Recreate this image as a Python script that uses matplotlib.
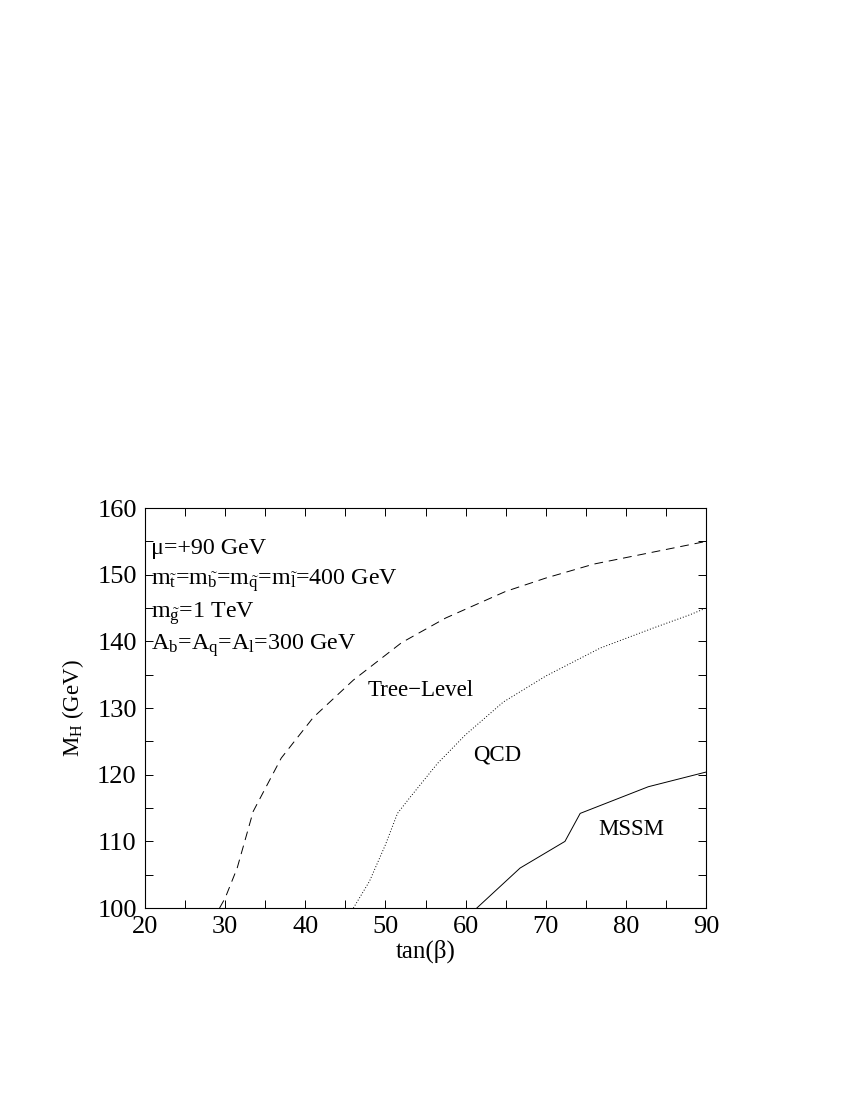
import matplotlib
matplotlib.use("Agg")
import matplotlib.pyplot as plt
from matplotlib.ticker import MultipleLocator

plt.rcParams['font.family'] = ['Liberation Serif', 'DejaVu Serif']
plt.rcParams['mathtext.fontset'] = 'custom'
plt.rcParams['mathtext.rm'] = 'Liberation Serif'
plt.rcParams['mathtext.it'] = 'Liberation Serif'
plt.rcParams['mathtext.bf'] = 'Liberation Serif:bold'

# Tree-level curve (dashed)
tree_tanb = [29.3, 30.0, 31.5, 33.5, 37.0, 41.0, 46.0, 52.0, 57.5, 65.0, 70.0, 76.0, 83.0, 90.0]
tree_mh = [100.0, 101.5, 106.0, 114.5, 122.5, 128.6, 134.2, 139.8, 143.5, 147.5, 149.5, 151.6, 153.3, 155.0]

# QCD corrected curve (dotted)
qcd_tanb = [46.0, 48.0, 50.0, 51.5, 53.0, 56.5, 60.0, 64.7, 70.0, 76.8, 83.4, 88.0, 90.0]
qcd_mh = [100.0, 104.0, 109.5, 114.2, 116.5, 121.7, 126.0, 130.9, 134.8, 139.0, 142.0, 144.0, 145.0]

# full MSSM curve (solid)
mssm_tanb = [61.4, 66.8, 72.4, 74.3, 82.8, 90.0]
mssm_mh = [100.0, 106.0, 110.0, 114.2, 118.2, 120.4]

params = [
    "μ=+90 GeV",
    r"m$_{\tilde{\mathrm{t}}}$=m$_{\tilde{\mathrm{b}}}$=m$_{\tilde{\mathrm{q}}}$=m$_{\tilde{\mathrm{l}}}$=400 GeV",
    r"m$_{\tilde{\mathrm{g}}}$=1 TeV",
    r"A$_\mathrm{b}$=A$_\mathrm{q}$=A$_\mathrm{l}$=300 GeV",
]

fig = plt.figure(figsize=(8.5, 11), dpi=100)
ax = fig.add_axes([0.1706, 0.1745, 0.66, 0.3636])

ax.plot(tree_tanb, tree_mh, color='black', lw=0.7, dashes=(9, 6))
ax.plot(qcd_tanb, qcd_mh, color='black', lw=0.7, dashes=(1, 2))
ax.plot(mssm_tanb, mssm_mh, color='black', lw=0.7)

ax.set_xlim(20, 90)
ax.set_ylim(100, 160)
ax.xaxis.set_major_locator(MultipleLocator(10))
ax.xaxis.set_minor_locator(MultipleLocator(5))
ax.yaxis.set_major_locator(MultipleLocator(10))
ax.yaxis.set_minor_locator(MultipleLocator(5))
ax.tick_params(which='both', direction='in', top=True, right=True,
               length=6, width=0.7, labelsize=19, pad=6)
for s in ax.spines.values():
    s.set_linewidth(0.8)

ax.set_xlabel("tan(β)", fontsize=18, labelpad=1)
ax.set_ylabel(r"M$_\mathrm{H}$ (GeV)", fontsize=16.5, labelpad=8)

for i, t in enumerate(params):
    ax.text(20.8, 154.0 - i * 4.9, t, fontsize=17.3, va='center', ha='left')

ax.text(47.8, 132.7, "Tree−Level", fontsize=16.5, va='center')
ax.text(61.0, 123.0, "QCD", fontsize=16.5, va='center')
ax.text(76.5, 111.8, "MSSM", fontsize=16.5, va='center')

fig.savefig("out.png", dpi=100)
